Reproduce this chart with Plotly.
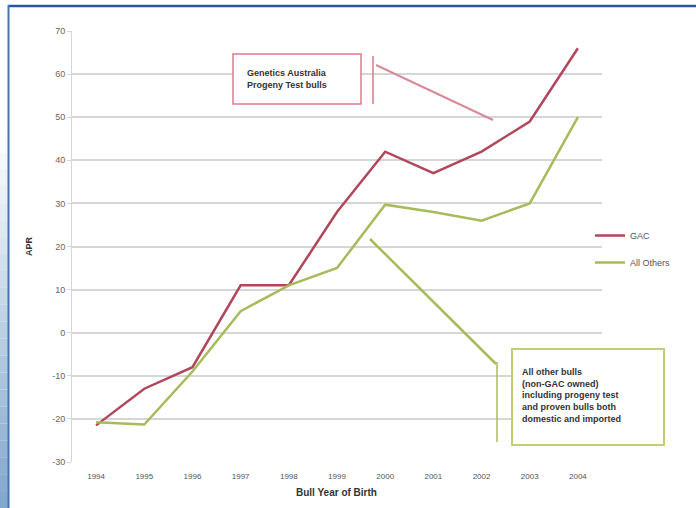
import plotly.graph_objects as go

years = ["1994", "1995", "1996", "1997", "1998", "1999", "2000", "2001", "2002", "2003", "2004"]
gac = [-21.5, -13, -8, 11, 11, 28, 42, 37, 42, 49, 66]
others = [-20.8, -21.3, -9, 5, 11, 15, 29.7, 28, 26, 30, 50]
y_ticks = [70, 60, 50, 40, 30, 20, 10, 0, -10, -20, -30]
y_tick_labels = ["70", "60", "50", "40", "30", "20", "10", "0", "-10", "-20", "-30"]

W, H = 696, 508
L, R, T, B = 72, 602, 31, 462


def px(x):
    return (x - L) / (R - L)


def py(y):
    return (B - y) / (B - T)


RED = "#b1475c"
GREEN = "#a6bb5c"
FONT = "Liberation Sans"

fig = go.Figure()
fig.add_trace(go.Scatter(x=years, y=gac, mode="lines", name="GAC", legendgroup="a",
                         line=dict(color=RED, width=2.5)))
fig.add_trace(go.Scatter(x=years, y=others, mode="lines", name="All Others", legendgroup="b",
                         line=dict(color=GREEN, width=2.5)))

shapes = []
# frame: top blue line, left blue line, left gradient strip
n = 30
for i in range(n):
    y0 = H * i / n
    y1 = H * (i + 1) / n
    t = i / (n - 1)
    a = max(0.0, (t - 0.25) / 0.75)
    r = int(255 - a * (255 - 130))
    g = int(255 - a * (255 - 168))
    b = int(255 - a * (255 - 205))
    shapes.append(dict(type="rect", xref="paper", yref="paper",
                       x0=px(0), x1=px(8), y0=py(y1), y1=py(y0),
                       fillcolor=f"rgb({r},{g},{b})", line=dict(width=0), layer="below"))
shapes.append(dict(type="line", xref="paper", yref="paper", x0=px(8), x1=px(W),
                   y0=py(6), y1=py(6), line=dict(color="#2a56a0", width=2.5)))
shapes.append(dict(type="line", xref="paper", yref="paper", x0=px(8.5), x1=px(8.5),
                   y0=py(5), y1=py(H), line=dict(color="#4a74b0", width=2)))

# red callout
shapes.append(dict(type="rect", xref="paper", yref="paper", x0=px(233), x1=px(361),
                   y0=py(104), y1=py(54), line=dict(color="#e07a8a", width=1.5),
                   fillcolor="white"))
shapes.append(dict(type="line", xref="paper", yref="paper", x0=px(373), x1=px(373),
                   y0=py(56), y1=py(104), line=dict(color="#d87888", width=1.5)))
shapes.append(dict(type="line", xref="paper", yref="paper", x0=px(376), x1=px(493),
                   y0=py(65), y1=py(120), line=dict(color="#d78a98", width=2)))
# green callout
shapes.append(dict(type="rect", xref="paper", yref="paper", x0=px(512), x1=px(664),
                   y0=py(445), y1=py(349), line=dict(color="#bfd070", width=2),
                   fillcolor="white"))
shapes.append(dict(type="line", xref="paper", yref="paper", x0=px(497), x1=px(497),
                   y0=py(362), y1=py(442), line=dict(color="#a8bc5c", width=1.5)))
shapes.append(dict(type="line", xref="paper", yref="paper", x0=px(370), x1=px(496),
                   y0=py(239), y1=py(364), line=dict(color="#a6bb5c", width=2.5)))

annotations = [
    dict(text="<b>Genetics Australia<br>Progeny Test bulls</b>", xref="paper", yref="paper",
         x=px(245), y=py(79), xanchor="left", yanchor="middle", align="left",
         showarrow=False, font=dict(family=FONT, size=9, color="#333333")),
    dict(text="<b>All other bulls<br>(non-GAC owned)<br>including progeny test<br>and proven bulls both<br>domestic and imported</b>",
         xref="paper", yref="paper", x=px(520), y=py(395), xanchor="left", yanchor="middle",
         align="left", showarrow=False,
         font=dict(family=FONT, size=9, color="#333333")),
    dict(text="<b>APR</b>", xref="paper", yref="paper", x=px(29), y=py(246),
         xanchor="center", yanchor="middle", textangle=-90, showarrow=False,
         font=dict(family=FONT, size=9, color="#333333")),
    dict(text="<b>Bull Year of Birth</b>", xref="paper", yref="paper", x=px(336), y=py(492),
         xanchor="center", yanchor="middle", showarrow=False,
         font=dict(family=FONT, size=10, color="#333333")),
]

fig.update_layout(
    width=W, height=H,
    margin=dict(l=L, r=W - R, t=T, b=H - B),
    paper_bgcolor="white", plot_bgcolor="white",
    shapes=shapes, annotations=annotations,
    showlegend=True,
    legend=dict(x=px(590), y=py(249), xanchor="left", yanchor="middle",
                font=dict(family=FONT, size=9, color="#555555"),
                bgcolor="rgba(0,0,0,0)", itemwidth=30, tracegroupgap=8),
    xaxis=dict(type="category", categoryorder="array", categoryarray=years,
               range=[-0.5, len(years) - 0.5],
               showgrid=False, zeroline=False, showline=False,
               tickfont=dict(family=FONT, size=8, color="#555555"),
               ticks="outside", ticklen=6, tickcolor="rgba(0,0,0,0)"),
    yaxis=dict(range=[-30, 70], tickvals=y_ticks, ticktext=y_tick_labels,
               showgrid=True, gridcolor="#d6d6d6",
               gridwidth=1.5, zeroline=False, showline=True, linecolor="#d6d6d6",
               linewidth=1, ticks="outside", ticklen=4, tickcolor="#d6d6d6",
               tickfont=dict(family=FONT, size=9, color="#666666")),
)

fig.write_html("out.html")
